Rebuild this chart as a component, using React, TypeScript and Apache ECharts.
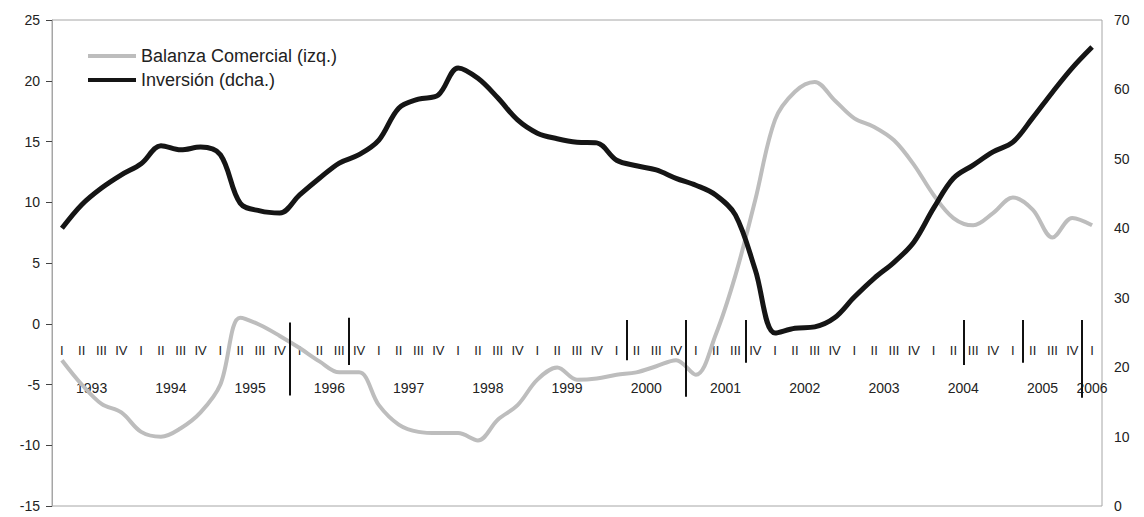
import React, { useEffect, useRef } from "react";
import * as echarts from "echarts";

const quarters = ["I", "II", "III", "IV"];
const years = ["1993", "1994", "1995", "1996", "1997", "1998", "1999", "2000", "2001", "2002", "2003", "2004", "2005", "2006"];

// 1993-I .. 2006-I (53 quarters)
const balanzaComercial = [
  -3.0, -5.0, -6.6, -7.3, -8.9, -9.3, -8.6, -7.3, -5.0, 0.5, -0.1, -1.0, -2.0,
  -3.1, -4.0, -4.0, -6.7, -8.3, -8.9, -9.0, -9.0, -9.6, -7.9, -6.7, -4.6, -3.6,
  -4.6, -4.5, -4.2, -4.0, -3.5, -3.0, -4.2, -0.9, 4.0, 10.2, 16.8, 19.1, 19.9,
  18.4, 16.9, 16.2, 15.1, 13.1, 10.6, 8.7, 8.1, 9.1, 10.4, 9.4, 7.1, 8.7, 8.1,
];
const inversion = [
  40.0, 43.4, 45.8, 47.7, 49.3, 51.9, 51.3, 51.7, 50.6, 43.6, 42.5, 42.2, 44.8,
  47.2, 49.4, 50.6, 52.7, 57.3, 58.6, 59.2, 63.1, 61.6, 58.8, 55.6, 53.7, 52.9,
  52.4, 52.3, 49.8, 49.0, 48.4, 47.2, 46.2, 44.8, 41.9, 34.0, 24.9, 25.6, 25.8,
  27.1, 30.1, 32.8, 35.1, 38.0, 42.9, 47.2, 49.1, 51.0, 52.4, 55.9, 59.6, 63.1, 66.1,
];

// short black marker strokes crossing the category labels (quarter boundary index, top, bottom in left-axis units)
const markerBoundaries = [12, 15, 29, 32, 35, 46, 49, 52];
const markerTop = [0.1, 0.5, 0.3, 0.3, 0.3, 0.3, 0.3, 0.3];
const markerBottom = [-5.9, -3.4, -3.0, -6.0, -3.2, -3.4, -3.2, -6.1];

const leftTicks = { min: -15, max: 25, interval: 5 };
const rightTicks = { min: 0, max: 70, interval: 10 };

export default function App() {
  const ref = useRef<HTMLDivElement>(null);
  useEffect(() => {
    if (!ref.current) return;
    const chart = echarts.init(ref.current, undefined, { renderer: "svg" });

    const nQ = balanzaComercial.length;
    const quarterCats = Array.from({ length: nQ }, (_, i) => quarters[i % 4] + "-" + i);
    // half-quarter grid (boundaryGap false): index j sits at j/2 quarters from the left edge
    const halfCats = Array.from({ length: nQ * 2 + 1 }, (_, j) => "h" + j);
    const yearAtHalf = (j: number) => {
      if (j === nQ * 2 - 1) return years[years.length - 1];
      if (j % 8 === 4) {
        const k = (j - 4) / 8;
        if (k < years.length - 1) return years[k];
      }
      return "";
    };

    const font = "'Liberation Sans', Arial, sans-serif";
    const gridTop = 20;
    const gridBottomPx = 506;
    const gridH = gridBottomPx - gridTop;
    // move the category axes up to the left axis' zero line
    const zeroOffset = -(gridH * (0 - leftTicks.min)) / (leftTicks.max - leftTicks.min);

    chart.setOption({
      animation: false,
      grid: {
        left: 52,
        right: 42,
        top: gridTop,
        bottom: 517 - gridBottomPx,
        containLabel: false,
        outerBoundsMode: "none",
        show: true,
        borderColor: "#a6a6a6",
        borderWidth: 1,
        backgroundColor: "transparent",
      },
      legend: {
        orient: "vertical",
        left: 83,
        top: 42,
        itemWidth: 48,
        itemHeight: 4,
        itemGap: 6,
        icon: "rect",
        textStyle: { fontFamily: font, fontSize: 18, color: "#222" },
        data: ["Balanza Comercial (izq.)", "Inversión (dcha.)"],
      },
      xAxis: [
        {
          type: "category",
          data: quarterCats,
          boundaryGap: true,
          position: "bottom",
          offset: zeroOffset,
          axisLine: { show: false, onZero: false },
          axisTick: { show: false },
          axisLabel: {
            interval: 0,
            margin: 20,
            fontFamily: font,
            fontSize: 13,
            color: "#222",
            formatter: (v: string) => v.split("-")[0],
          },
          splitLine: { show: false },
        },
        {
          type: "category",
          data: halfCats,
          boundaryGap: false,
          position: "bottom",
          offset: zeroOffset,
          axisLine: { show: false, onZero: false },
          axisTick: { show: false },
          axisLabel: {
            interval: 0,
            margin: 57,
            fontFamily: font,
            fontSize: 14,
            color: "#222",
            formatter: (_v: string, j: number) => yearAtHalf(j),
          },
          splitLine: { show: false },
        },
      ],
      yAxis: [
        {
          type: "value",
          min: leftTicks.min,
          max: leftTicks.max,
          interval: leftTicks.interval,
          axisLine: { show: true, lineStyle: { color: "#a6a6a6" } },
          axisTick: { show: true, length: 6, lineStyle: { color: "#444" } },
          axisLabel: { margin: 12, fontFamily: font, fontSize: 14, color: "#222" },
          splitLine: { show: false },
        },
        {
          type: "value",
          min: rightTicks.min,
          max: rightTicks.max,
          interval: rightTicks.interval,
          position: "right",
          axisLine: { show: false },
          axisTick: { show: false },
          axisLabel: { margin: 12, fontFamily: font, fontSize: 14, color: "#222" },
          splitLine: { show: false },
        },
      ],
      series: [
        {
          name: "Balanza Comercial (izq.)",
          type: "line",
          xAxisIndex: 0,
          yAxisIndex: 0,
          data: balanzaComercial,
          symbol: "none",
          smooth: 0.35,
          lineStyle: { color: "#bdbdbd", width: 4 },
          itemStyle: { color: "#bdbdbd" },
          z: 2,
        },
        {
          name: "Inversión (dcha.)",
          type: "line",
          xAxisIndex: 0,
          yAxisIndex: 1,
          data: inversion,
          symbol: "none",
          smooth: 0.35,
          lineStyle: { color: "#151515", width: 5 },
          itemStyle: { color: "#151515" },
          z: 3,
        },
        {
          name: "markers",
          type: "line",
          xAxisIndex: 1,
          yAxisIndex: 0,
          data: [],
          silent: true,
          markLine: {
            silent: true,
            symbol: "none",
            label: { show: false },
            lineStyle: { color: "#111", width: 2, type: "solid" },
            data: markerBoundaries.map((q, i) => [
              { coord: [q * 2, markerTop[i]] },
              { coord: [q * 2, markerBottom[i]] },
            ]),
          },
          z: 4,
        },
      ],
    });
    return () => chart.dispose();
  }, []);
  return (
    <div
      ref={ref}
      style={{ position: "fixed", left: 0, top: 0, width: 1144, height: 517, background: "#fff" }}
    />
  );
}
